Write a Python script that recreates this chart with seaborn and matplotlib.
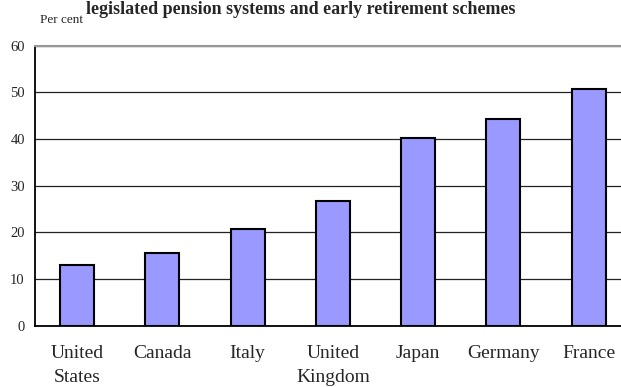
import pandas as pd
import matplotlib.pyplot as plt
import seaborn as sns

# data
countries = ['United\nStates', 'Canada', 'Italy', 'United\nKingdom', 'Japan', 'Germany', 'France']
values = [12.9, 15.6, 20.7, 26.6, 40.3, 44.2, 50.6]
y_ticks = [0, 10, 20, 30, 40, 50, 60]

df = pd.DataFrame({'Country': countries, 'Value': values})

sns.set_theme(style="white")
plt.rcParams['font.family'] = ['Liberation Serif', 'DejaVu Serif']

fig = plt.figure(figsize=(6.21, 3.87), dpi=100)
ax = fig.add_axes([0.0556, 0.1584, 0.961, 0.724])

sns.barplot(data=df, x='Country', y='Value', color='#9999FF', saturation=1,
            edgecolor='black', linewidth=1.5, width=0.4, ax=ax, zorder=3)

ax.set_ylim(0, 60)
ax.set_yticks(y_ticks)
ax.yaxis.grid(True, color='#222222', linewidth=0.9, zorder=0)
ax.set_axisbelow(True)
ax.set_xlabel('')
ax.set_ylabel('')

for side in ['left', 'bottom']:
    ax.spines[side].set_color('black')
    ax.spines[side].set_linewidth(1.3)
ax.spines['top'].set_color('#999999')
ax.spines['top'].set_linewidth(1.5)
ax.spines['right'].set_visible(False)

# x ticks sit between categories
ax.set_xticks([i + 0.5 for i in range(-1, len(countries))], minor=True)
ax.tick_params(axis='x', which='major', length=0, pad=14, labelsize=14)
ax.tick_params(axis='x', which='minor', length=5, width=1, color='black', direction='out')
ax.tick_params(axis='y', length=4, width=1, color='black', direction='out', pad=3, labelsize=10.5)
for lab in ax.get_xticklabels():
    lab.set_linespacing(1.55)
    lab.set_verticalalignment('top')

fig.text(0.065, 1 - 20 / 387, 'Per cent', fontsize=9.5, va='center', ha='left')
fig.text(0.485, 0.998, 'legislated pension systems and early retirement schemes',
         fontsize=13, fontweight='bold', ha='center', va='top')

fig.savefig('out.png', dpi=100)
plt.close()
